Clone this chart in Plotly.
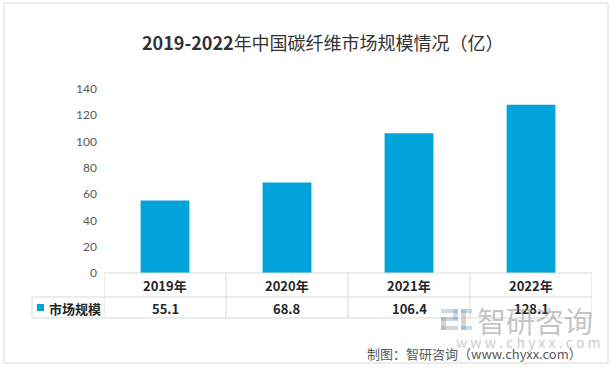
import plotly.graph_objects as go

# ---- data ----
categories = ["2019年", "2020年", "2021年", "2022年"]
values = [55.1, 68.8, 106.4, 128.1]
series_name = "市场规模"
y_ticks = [0, 20, 40, 60, 80, 100, 120, 140]
title_num = "2019-2022"
title_rest = "年中国碳纤维市场规模情况（亿）"
source_text = "制图：智研咨询（www.chyxx.com）"
wm_text = "智研咨询"
wm_url = "w w w . c h y x x . c o m"

# ---- layout geometry (pixels) ----
W, H = 614, 369
L, R, T, B = 104, 592, 89, 273
BAR_COLOR = "#00A3DA"
GRID = "#D9D9D9"
FONT = "Noto Sans CJK SC, Lato, sans-serif"


def px(x):
    return (x - L) / (R - L)


def py(y):
    return (B - y) / (B - T)


fig = go.Figure(
    go.Bar(
        x=categories,
        y=values,
        marker_color=BAR_COLOR,
        marker_line_width=0,
        width=0.4,
        hoverinfo="skip",
        showlegend=False,
    )
)

shapes = []
# outer border
shapes.append(dict(type="rect", xref="paper", yref="paper",
                   x0=px(4), x1=px(608), y0=py(3), y1=py(363),
                   line=dict(color=GRID, width=1), layer="below"))
# table horizontal lines
row_top, row_mid, row_bot = 273, 297, 318
shapes.append(dict(type="line", xref="paper", yref="paper",
                   x0=px(L), x1=px(R), y0=py(row_top), y1=py(row_top),
                   line=dict(color=GRID, width=1)))
for yy in (row_mid, row_bot):
    shapes.append(dict(type="line", xref="paper", yref="paper",
                       x0=px(32), x1=px(R), y0=py(yy), y1=py(yy),
                       line=dict(color=GRID, width=1)))
# table vertical lines (category boundaries)
for i in range(len(categories) + 1):
    shapes.append(dict(type="line", xref="x", yref="paper",
                       x0=i - 0.5, x1=i - 0.5, y0=py(row_top), y1=py(row_bot),
                       line=dict(color=GRID, width=1)))
# legend cell left edge
shapes.append(dict(type="line", xref="paper", yref="paper",
                   x0=px(32), x1=px(32), y0=py(row_mid), y1=py(row_bot),
                   line=dict(color=GRID, width=1)))
# legend key square
shapes.append(dict(type="rect", xref="paper", yref="paper",
                   x0=px(37), x1=px(44), y0=py(304), y1=py(311),
                   fillcolor=BAR_COLOR, line=dict(width=0)))
# watermark logo (approximation)
logo_c1 = "rgba(120,160,210,0.40)"
logo_c2 = "rgba(150,150,150,0.40)"
for (x0, x1, y0, y1, c) in [
    (441, 458, 309, 313, logo_c1),
    (453, 458, 309, 320, logo_c1),
    (441, 458, 317, 321, logo_c1),
    (441, 446, 317, 330, logo_c2),
    (441, 458, 326, 330, logo_c2),
    (461, 472, 309, 313, logo_c1),
    (461, 466, 309, 330, logo_c2),
    (461, 472, 326, 330, logo_c1),
]:
    shapes.append(dict(type="rect", xref="paper", yref="paper",
                       x0=px(x0), x1=px(x1), y0=py(y0), y1=py(y1),
                       fillcolor=c, line=dict(width=0)))

annotations = []
# title
annotations.append(dict(text=f"<b>{title_num}</b>{title_rest}", xref="paper", yref="paper",
                        x=px(323), y=py(42), showarrow=False,
                        xanchor="center", yanchor="middle",
                        font=dict(size=18, color="#333333", family=FONT)))
# header row + values row
for i, (c, v) in enumerate(zip(categories, values)):
    annotations.append(dict(text=f"<b>{c}</b>", xref="x", yref="paper",
                            x=i, y=py(285.5), showarrow=False,
                            xanchor="center", yanchor="middle",
                            font=dict(size=13, color="#262626", family=FONT)))
    annotations.append(dict(text=f"<b>{v:.1f}</b>", xref="x", yref="paper",
                            x=i, y=py(308), showarrow=False,
                            xanchor="center", yanchor="middle",
                            font=dict(size=13, color="#262626", family=FONT)))
# legend label
annotations.append(dict(text=f"<b>{series_name}</b>", xref="paper", yref="paper",
                        x=px(47), y=py(308), showarrow=False,
                        xanchor="left", yanchor="middle",
                        font=dict(size=13, color="#262626", family=FONT)))
# watermark
annotations.append(dict(text=wm_text, xref="paper", yref="paper",
                        x=px(535), y=py(320), showarrow=False,
                        xanchor="center", yanchor="middle",
                        font=dict(size=29, color="rgba(140,140,140,0.5)", family=FONT)))
annotations.append(dict(text=wm_url, xref="paper", yref="paper",
                        x=px(528), y=py(342), showarrow=False,
                        xanchor="center", yanchor="middle",
                        font=dict(size=14, color="rgba(150,150,150,0.5)", family=FONT)))
# source
annotations.append(dict(text=source_text, xref="paper", yref="paper",
                        x=px(584), y=py(353), showarrow=False,
                        xanchor="right", yanchor="middle",
                        font=dict(size=13, color="#595959", family=FONT)))

fig.update_layout(
    width=W, height=H,
    margin=dict(l=L, r=W - R, t=T, b=H - B, pad=0),
    paper_bgcolor="white", plot_bgcolor="white",
    font=dict(family=FONT),
    xaxis=dict(type="category", range=[-0.5, len(categories) - 0.5],
               showticklabels=False, showgrid=False, zeroline=False,
               showline=False, ticks=""),
    yaxis=dict(range=[0, 140], tickvals=y_ticks, showgrid=False,
               zeroline=False, showline=False, ticks="",
               ticklabelstandoff=6,
               tickfont=dict(size=12, color="#595959", family="Lato, Noto Sans CJK SC, sans-serif")),
    shapes=shapes,
    annotations=annotations,
    bargap=0.6,
)

fig.write_html(
    "out.html",
    config={"displayModeBar": False},
    post_script="document.body.style.margin='0';document.body.style.overflow='hidden';",
)
